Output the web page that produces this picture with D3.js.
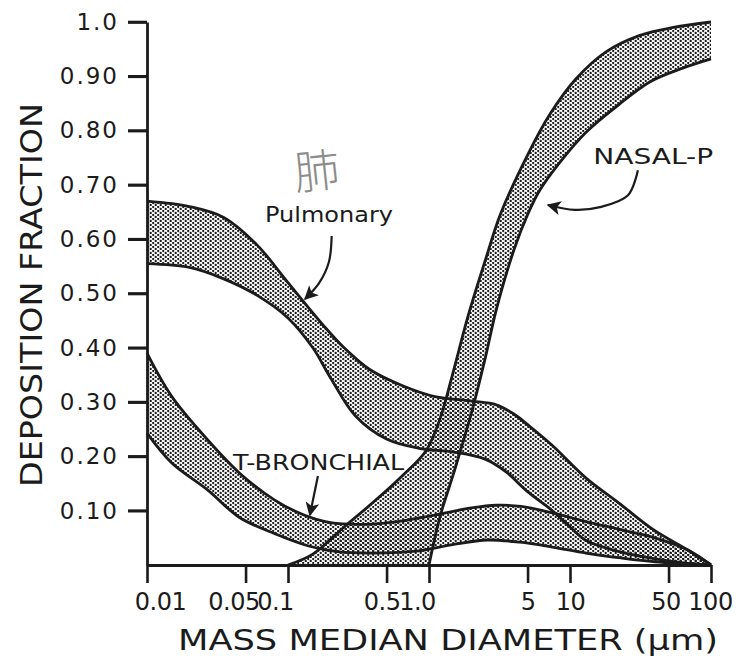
<!DOCTYPE html>
<html>
<head>
<meta charset="utf-8">
<script src="https://cdn.jsdelivr.net/npm/d3@7"></script>
<style>
  body { margin: 0; background: #fff; }
  svg { display: block; }
</style>
</head>
<body>
<div id="chart"></div>
<script>
// particle diameters (um) and deposition fractions
const diamPulmUpper = [0.01, 0.02, 0.035, 0.06, 0.1, 0.18, 0.25, 0.38, 0.65, 1.1, 2.0, 3.0, 4.0, 5.2, 7.5, 13, 22, 39, 68, 100];
const pulmUpper     = [0.67, 0.66, 0.64, 0.59, 0.52, 0.44, 0.40, 0.36, 0.33, 0.31, 0.302, 0.295, 0.278, 0.255, 0.22, 0.16, 0.115, 0.065, 0.028, 0];
const diamPulmLower = [0.01, 0.02, 0.035, 0.06, 0.1, 0.15, 0.2, 0.3, 0.5, 0.85, 1.5, 2.5, 3.5, 5, 7.5, 10, 13, 20, 35, 60, 100];
const pulmLower     = [0.555, 0.548, 0.527, 0.497, 0.455, 0.40, 0.345, 0.275, 0.232, 0.215, 0.208, 0.195, 0.172, 0.135, 0.10, 0.07, 0.045, 0.028, 0.014, 0.005, 0];

const diamTbUpper = [0.01, 0.015, 0.027, 0.045, 0.08, 0.13, 0.2, 0.35, 0.6, 1.0, 2.0, 3.0, 4.5, 7.5, 13, 22, 40, 68, 100];
const tbUpper     = [0.39, 0.31, 0.23, 0.17, 0.12, 0.092, 0.078, 0.075, 0.08, 0.09, 0.105, 0.11, 0.108, 0.096, 0.08, 0.066, 0.05, 0.028, 0];
const diamTbLower = [0.01, 0.015, 0.027, 0.045, 0.08, 0.14, 0.23, 0.4, 0.85, 1.5, 2.6, 4.4, 7.5, 13, 23, 40, 100];
const tbLower     = [0.243, 0.188, 0.138, 0.088, 0.058, 0.035, 0.024, 0.022, 0.026, 0.038, 0.046, 0.042, 0.033, 0.022, 0.013, 0.006, 0];

const diamNasalUpper = [0.1, 0.15, 0.25, 0.4, 0.65, 0.95, 1.2, 1.5, 1.9, 2.5, 3.2, 5, 7.2, 11, 18, 31, 54, 100];
const nasalUpper     = [0, 0.02, 0.07, 0.115, 0.165, 0.21, 0.27, 0.36, 0.46, 0.56, 0.645, 0.755, 0.83, 0.895, 0.945, 0.975, 0.99, 1.0];
const diamNasalLower = [1.0, 1.2, 1.5, 2.0, 2.5, 3.0, 4.0, 5.0, 6.1, 8.5, 13, 22, 37, 63, 100];
const nasalLower     = [0, 0.09, 0.17, 0.28, 0.38, 0.47, 0.58, 0.645, 0.69, 0.742, 0.797, 0.847, 0.89, 0.915, 0.932];

const xTicks = [0.01, 0.05, 0.1, 0.5, 1, 5, 10, 50, 100];
const xTickLabels = ["0.01", "0.05", "0.1", "0.5", "1.0", "5", "10", "50", "100"];
const yTicks = [0.1, 0.2, 0.3, 0.4, 0.5, 0.6, 0.7, 0.8, 0.9, 1.0];
const yTickLabels = ["0.10", "0.20", "0.30", "0.40", "0.50", "0.60", "0.70", "0.80", "0.90", "1.0"];

// set the dimensions and margins of the graph
const margin = {top: 22, right: 31, bottom: 101, left: 147},
    width = 742 - margin.left - margin.right,
    height = 666 - margin.top - margin.bottom;

const ink = "#1b1b1b";
const font = "'DejaVu Sans', sans-serif";

const root = d3.select("#chart")
  .append("svg")
    .attr("width", 742)
    .attr("height", 666);

root.append("rect").attr("width", 742).attr("height", 666).attr("fill", "#fff");

// stipple used for every band
const defs = root.append("defs");
const pat = defs.append("pattern")
    .attr("id", "stipple")
    .attr("patternUnits", "userSpaceOnUse")
    .attr("width", 5)
    .attr("height", 4);
pat.append("circle").attr("cx", 1.2).attr("cy", 1).attr("r", 1.15).attr("fill", ink);
pat.append("circle").attr("cx", 3.7).attr("cy", 3).attr("r", 1.15).attr("fill", ink);

defs.append("marker")
    .attr("id", "head")
    .attr("markerUnits", "userSpaceOnUse")
    .attr("viewBox", "0 0 10 10")
    .attr("refX", 9).attr("refY", 5)
    .attr("markerWidth", 17).attr("markerHeight", 14)
    .attr("orient", "auto")
  .append("path")
    .attr("d", "M0,0 L10,5 L0,10 L2.5,5 Z")
    .attr("fill", ink);

const svg = root.append("g")
    .attr("transform", `translate(${margin.left},${margin.top})`);

const x = d3.scaleLog().domain([0.01, 100]).range([0, width]);
const y = d3.scaleLinear().domain([0, 1]).range([height, 0]);

const edge = d3.line()
    .x(d => x(d[0]))
    .y(d => y(d[1]))
    .curve(d3.curveCatmullRom.alpha(0.5));

const zip = (a, b) => a.map((d, i) => [d, b[i]]);

const bands = [
  {upper: zip(diamPulmUpper, pulmUpper), lower: zip(diamPulmLower, pulmLower)},
  {upper: zip(diamTbUpper, tbUpper), lower: zip(diamTbLower, tbLower)},
  {upper: zip(diamNasalUpper, nasalUpper), lower: zip(diamNasalLower, nasalLower)}
];

// fills first, then the outlines on top
bands.forEach(b => {
  const top = edge(b.upper);
  const bottom = edge(b.lower.slice().reverse()).replace(/^M/, "L");
  svg.append("path")
    .attr("d", top + bottom + "Z")
    .attr("fill", "url(#stipple)");
});
bands.forEach(b => {
  [b.upper, b.lower].forEach(pts => {
    svg.append("path")
      .attr("d", edge(pts))
      .attr("fill", "none")
      .attr("stroke", ink)
      .attr("stroke-width", 2.8)
      .attr("stroke-linejoin", "round");
  });
});

// axes
const yAxis = svg.append("g")
  .call(d3.axisLeft(y).tickValues(yTicks).tickSize(19).tickSizeOuter(0)
    .tickFormat((d, i) => yTickLabels[i]).tickPadding(9));
const xAxis = svg.append("g")
  .attr("transform", `translate(0,${height})`)
  .call(d3.axisBottom(x).tickValues(xTicks).tickSize(18).tickSizeOuter(0)
    .tickFormat((d, i) => xTickLabels[i]).tickPadding(10));

[yAxis, xAxis].forEach(a => {
  a.select(".domain").attr("stroke", ink).attr("stroke-width", 2.8);
  a.selectAll(".tick line").attr("stroke", ink).attr("stroke-width", 2.6);
  a.selectAll("text").attr("fill", ink).style("font-family", font);
});
yAxis.selectAll("text").style("font-size", "23px").style("letter-spacing", "2px");

// the left tick marks, drawn again so they sit on top
svg.append("g").selectAll("line")
  .data(yTicks)
  .join("line")
    .attr("x1", -19).attr("x2", 0)
    .attr("y1", d => y(d)).attr("y2", d => y(d))
    .attr("stroke", ink)
    .attr("stroke-width", 2.6);

// x labels were nudged in the original to keep them apart
const xShift = [13, -12, -13, -5, -12, 0, 0, -3, -1];
xAxis.selectAll(".tick text")
  .style("font-size", "24px")
  .style("letter-spacing", "-0.5px")
  .attr("dx", (d, i) => xShift[i]);

// axis titles
root.append("text")
  .attr("transform", "translate(42,295) rotate(-90)")
  .attr("text-anchor", "middle")
  .attr("textLength", 384)
  .attr("lengthAdjust", "spacingAndGlyphs")
  .style("font-family", font)
  .style("font-size", "31px")
  .attr("fill", ink)
  .text("DEPOSITION FRACTION");

root.append("text")
  .attr("x", 448)
  .attr("y", 650)
  .attr("text-anchor", "middle")
  .attr("textLength", 540)
  .attr("lengthAdjust", "spacingAndGlyphs")
  .style("font-family", font)
  .style("font-size", "29px")
  .attr("fill", ink)
  .text("MASS MEDIAN DIAMETER (\u00b5m)");

// curve labels and their arrows
const labels = [
  {text: "NASAL-P", at: [14.6, 0.738], len: 120},
  {text: "Pulmonary", at: [0.0687, 0.632], len: 128},
  {text: "T-BRONCHIAL", at: [0.0408, 0.175], len: 171}
];
labels.forEach(l => {
  svg.append("text")
    .attr("x", x(l.at[0]))
    .attr("y", y(l.at[1]))
    .attr("textLength", l.len)
    .attr("lengthAdjust", "spacingAndGlyphs")
    .style("font-family", font)
    .style("font-size", "22px")
    .attr("fill", ink)
    .text(l.text);
});

const arrows = [
  [[30.3, 0.727], [25.8, 0.681], [16.3, 0.659], [10.8, 0.654], [6.98, 0.663]],
  [[0.204, 0.606], [0.195, 0.558], [0.166, 0.519], [0.132, 0.49]],
  [[0.163, 0.164], [0.143, 0.092]]
];
arrows.forEach(a => {
  svg.append("path")
    .attr("d", edge(a))
    .attr("fill", "none")
    .attr("stroke", ink)
    .attr("stroke-width", 2.2)
    .attr("marker-end", "url(#head)");
});

// handwritten note above the pulmonary label
svg.append("text")
  .attr("transform", `translate(${x(0.165)},${y(0.695)}) rotate(-6)`)
  .attr("text-anchor", "middle")
  .style("font-family", "'Noto Sans CJK SC'")
  .style("font-weight", 300)
  .style("font-size", "46px")
  .attr("fill", "#8c8c8c")
  .text("肺");
</script>
</body>
</html>
